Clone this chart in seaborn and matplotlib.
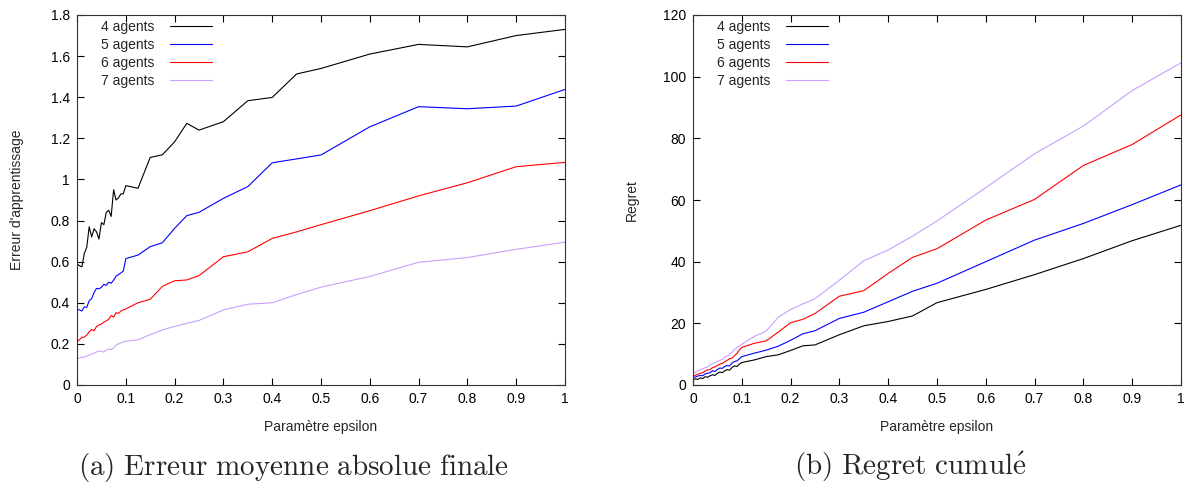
import matplotlib
matplotlib.use("Agg")
import matplotlib.pyplot as plt
import seaborn as sns

# epsilon values (fine steps below 0.1)
eps = [0.0, 0.005, 0.01, 0.015, 0.02, 0.025, 0.03, 0.035, 0.04, 0.045, 0.05,
       0.055, 0.06, 0.065, 0.07, 0.075, 0.08, 0.085, 0.09, 0.095, 0.1,
       0.125, 0.15, 0.175, 0.2, 0.225, 0.25, 0.3, 0.35, 0.4, 0.45, 0.5,
       0.6, 0.7, 0.8, 0.9, 1.0]

# (a) final mean absolute error
erreur_4 = [0.59, 0.58, 0.575, 0.64, 0.67, 0.77, 0.72, 0.76, 0.745, 0.71, 0.79,
            0.78, 0.84, 0.85, 0.82, 0.95, 0.90, 0.91, 0.93, 0.93, 0.97,
            0.957, 1.107, 1.12, 1.183, 1.273, 1.24, 1.281, 1.383, 1.399, 1.513, 1.54,
            1.61, 1.657, 1.645, 1.70, 1.73]
erreur_5 = [0.37, 0.365, 0.36, 0.38, 0.378, 0.41, 0.42, 0.45, 0.47, 0.468, 0.475,
            0.49, 0.485, 0.50, 0.495, 0.51, 0.53, 0.537, 0.545, 0.555, 0.615,
            0.632, 0.673, 0.692, 0.762, 0.824, 0.84, 0.908, 0.965, 1.081, 1.10, 1.119,
            1.256, 1.354, 1.344, 1.357, 1.438]
erreur_6 = [0.21, 0.22, 0.232, 0.233, 0.243, 0.259, 0.27, 0.264, 0.285, 0.292, 0.296,
            0.306, 0.312, 0.32, 0.338, 0.33, 0.352, 0.348, 0.36, 0.365, 0.37,
            0.40, 0.417, 0.48, 0.507, 0.511, 0.532, 0.624, 0.648, 0.713, 0.745, 0.78,
            0.848, 0.92, 0.984, 1.062, 1.083]
erreur_7 = [0.13, 0.13, 0.135, 0.135, 0.14, 0.145, 0.15, 0.155, 0.16, 0.165, 0.165,
            0.16, 0.17, 0.175, 0.172, 0.18, 0.195, 0.20, 0.205, 0.21, 0.213,
            0.22, 0.245, 0.268, 0.285, 0.30, 0.314, 0.365, 0.393, 0.40, 0.44, 0.476,
            0.528, 0.597, 0.62, 0.66, 0.695]

# (b) cumulated regret
regret_4 = [1.6, 2.0, 1.8, 2.3, 2.1, 2.7, 2.5, 3.0, 3.3, 3.1, 3.8,
            4.2, 4.0, 4.6, 5.0, 4.8, 5.7, 6.2, 6.0, 6.8, 7.3,
            8.1, 9.2, 9.8, 11.2, 12.7, 13.0, 16.3, 19.2, 20.6, 22.4, 26.7,
            31.0, 35.8, 41.0, 46.8, 51.8]
regret_5 = [2.4, 2.6, 2.9, 3.1, 3.0, 3.6, 3.8, 4.0, 4.6, 4.4, 5.0,
            5.5, 5.4, 6.0, 6.3, 6.2, 7.1, 7.6, 7.8, 8.5, 9.2,
            10.3, 11.3, 12.6, 14.5, 16.6, 17.6, 21.6, 23.6, 27.0, 30.4, 33.0,
            40.0, 47.0, 52.4, 58.5, 64.9]
regret_6 = [2.9, 3.2, 3.5, 3.8, 4.0, 4.5, 4.9, 5.0, 5.6, 5.9, 6.3,
            6.8, 7.0, 7.5, 8.0, 8.5, 8.7, 9.5, 10.2, 11.3, 12.2,
            13.5, 14.3, 17.2, 20.2, 21.3, 23.2, 28.8, 30.6, 36.2, 41.4, 44.2,
            53.5, 60.2, 71.2, 78.0, 87.6]
regret_7 = [3.8, 4.2, 4.6, 5.0, 5.3, 5.6, 5.9, 6.5, 6.8, 7.3, 7.6,
            8.0, 8.3, 9.0, 9.4, 9.8, 10.6, 11.5, 12.2, 12.6, 13.2,
            15.7, 17.5, 22.0, 24.5, 26.3, 28.0, 34.0, 40.3, 43.8, 48.3, 53.2,
            64.0, 75.0, 84.0, 95.5, 104.5]

labels = ["4 agents", "5 agents", "6 agents", "7 agents"]
colors = ["black", "#0000ff", "#ff0000", "#c9a0ff"]

x_ticks = [0, 0.1, 0.2, 0.3, 0.4, 0.5, 0.6, 0.7, 0.8, 0.9, 1]
x_ticklabels = ["0", "0.1", "0.2", "0.3", "0.4", "0.5", "0.6", "0.7", "0.8", "0.9", "1"]
err_ticks = [0, 0.2, 0.4, 0.6, 0.8, 1.0, 1.2, 1.4, 1.6, 1.8]
err_ticklabels = ["0", "0.2", "0.4", "0.6", "0.8", "1", "1.2", "1.4", "1.6", "1.8"]
reg_ticks = [0, 20, 40, 60, 80, 100, 120]

sns.set_style("ticks")
plt.rcParams['font.family'] = ['Liberation Sans', 'DejaVu Sans']
plt.rcParams['mathtext.fontset'] = 'cm'

W, H = 1187, 493
fig = plt.figure(figsize=(W / 100, H / 100), dpi=100)
ax1 = fig.add_axes([77 / W, 108 / H, 488 / W, 370 / H])
ax2 = fig.add_axes([693 / W, 108 / H, 488 / W, 370 / H])

for ax, series in [(ax1, [erreur_4, erreur_5, erreur_6, erreur_7]),
                   (ax2, [regret_4, regret_5, regret_6, regret_7])]:
    for lab, col, s in zip(labels, colors, series):
        sns.lineplot(x=eps, y=s, color=col, label=lab, linewidth=0.8, ax=ax)
    ax.set_xlim(0, 1)
    ax.set_xticks(x_ticks)
    ax.set_xticklabels(x_ticklabels)
    ax.tick_params(direction="in", top=True, right=True, length=5, width=0.8,
                   labelsize=10, colors="black", pad=5)
    for sp in ax.spines.values():
        sp.set_linewidth(0.8)
        sp.set_color("#333333")
    ax.set_xlabel("Paramètre epsilon", fontsize=10, labelpad=10)
    ax.legend(loc="upper left", frameon=False, markerfirst=False, fontsize=10,
              handlelength=3.0, handletextpad=1.1, labelspacing=0.28,
              borderaxespad=0.3, bbox_to_anchor=(0.03, 1.012))

ax1.set_ylim(0, 1.8)
ax1.set_yticks(err_ticks)
ax1.set_yticklabels(err_ticklabels)
ax1.set_ylabel("Erreur d'apprentissage", fontsize=10, labelpad=19)

ax2.set_ylim(0, 120)
ax2.set_yticks(reg_ticks)
ax2.set_ylabel("Regret", fontsize=10, labelpad=17)

fig.text(294 / W, 1 - 467 / H, r"$\mathrm{(a)\ Erreur\ moyenne\ absolue\ finale}$",
         ha="center", va="center", fontsize=21)
fig.text(910 / W, 1 - 467 / H, r"$\mathrm{(b)\ Regret\ cumul\acute{e}}$",
         ha="center", va="center", fontsize=21)

fig.savefig("out.png", dpi=100)
